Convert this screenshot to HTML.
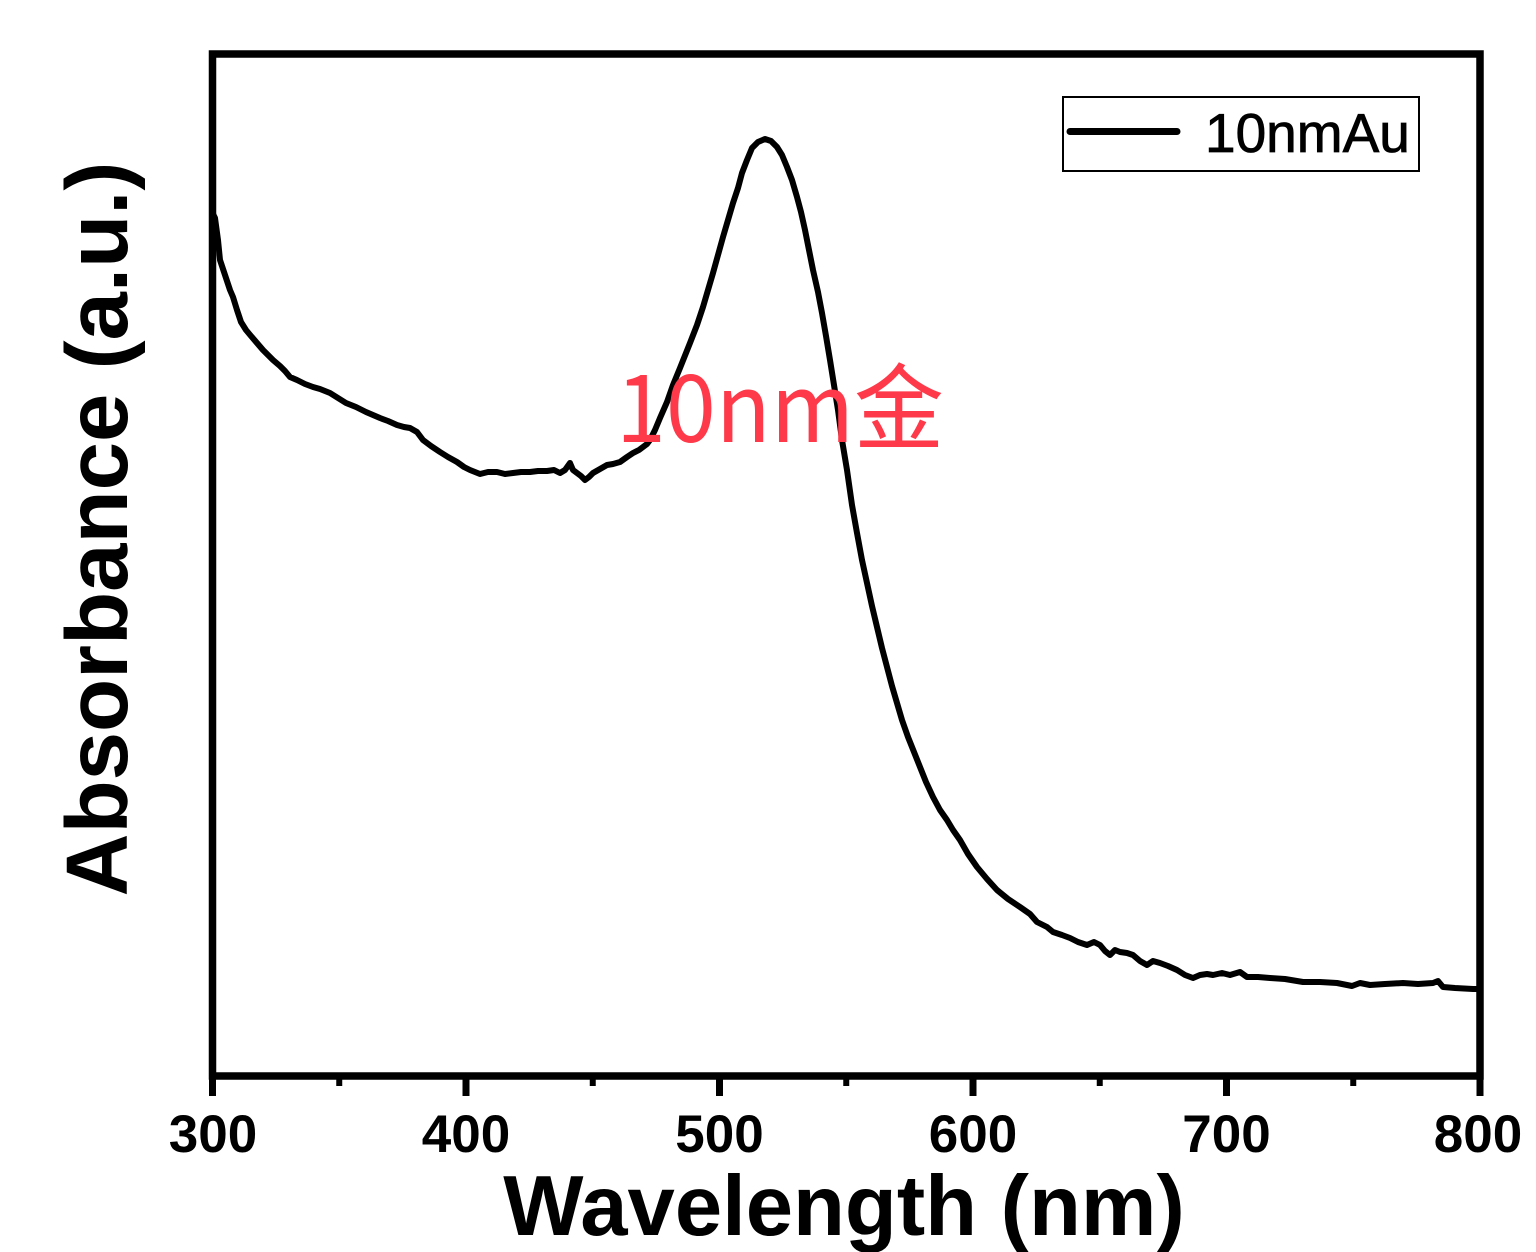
<!DOCTYPE html>
<html>
<head>
<meta charset="utf-8">
<style>
  html, body { margin: 0; padding: 0; background: #ffffff; }
  body { width: 1536px; height: 1252px; overflow: hidden; }
  svg { display: block; }
</style>
</head>
<body>
<svg width="1536" height="1252" viewBox="0 0 1536 1252" xmlns="http://www.w3.org/2000/svg">
  <rect x="0" y="0" width="1536" height="1252" fill="#ffffff"/>

  <!-- data curve -->
  <polyline fill="none" stroke="#000" stroke-width="6" stroke-linejoin="round" stroke-linecap="round"
    points="212,212 215,218 218,240 220,260 224,272 227,281 230,290 233,297 237,310 241,322 246,330 251,336 257,343 263,350 268,355 273,360 280,366 285,371 290,377 297,380 305,384 313,387 320,389 330,393 338,398 346,403 356,407 366,412 373,415 380,418 388,421 397,425 404,427 410,428 417,432 423,440 431,446 440,452 448,457 457,462 464,467 470,470 480,474 488,472 497,472 505,474 513,473 521,472 530,472 538,471 547,471 554,470 560,473 565,470 570,463 573,470 577,473 581,476 585,480 589,477 593,473 600,469 607,465 613,464 620,462 627,457 633,453 639,450 643,447 647,444 650,440 655,430 660,418 667,402 673,385 680,368 690,343 697,325 703,307 708,290 713,273 718,255 723,237 728,220 733,203 738,188 742,173 747,160 752,148 758,142 765,139 771,141 777,147 782,155 787,167 792,180 797,197 801,212 805,230 809,250 813,270 818,292 822,313 826,336 830,360 834,385 838,410 842,440 847,470 852,505 857,533 862,560 867,583 872,606 877,627 882,648 887,667 892,686 897,703 902,720 908,737 914,752 920,767 926,782 933,797 940,810 947,820 953,830 960,840 968,854 977,867 987,879 997,890 1008,899 1020,907 1030,914 1037,922 1047,927 1053,932 1062,935 1070,938 1078,942 1087,945 1094,942 1100,945 1105,951 1110,955 1115,950 1120,952 1127,953 1133,955 1140,961 1147,965 1153,961 1160,963 1168,966 1177,970 1185,975 1193,978 1200,975 1207,974 1213,975 1222,973 1230,975 1240,972 1247,977 1258,977 1270,978 1285,979 1303,982 1320,982 1337,983 1352,986 1360,983 1370,985 1385,984 1403,983 1418,984 1433,983 1438,981 1443,987 1455,988 1473,989 1477,989"/>

  <!-- frame -->
  <rect x="212.5" y="54" width="1267.5" height="1022" fill="none" stroke="#000" stroke-width="7.5"/>

  <!-- major ticks -->
  <g stroke="#000" stroke-width="7">
    <line x1="212.5" y1="1076" x2="212.5" y2="1096"/>
    <line x1="466" y1="1076" x2="466" y2="1096"/>
    <line x1="719.5" y1="1076" x2="719.5" y2="1096"/>
    <line x1="973" y1="1076" x2="973" y2="1096"/>
    <line x1="1226.5" y1="1076" x2="1226.5" y2="1096"/>
    <line x1="1480" y1="1076" x2="1480" y2="1096"/>
  </g>
  <!-- minor ticks -->
  <g stroke="#000" stroke-width="6">
    <line x1="339.25" y1="1076" x2="339.25" y2="1086"/>
    <line x1="592.75" y1="1076" x2="592.75" y2="1086"/>
    <line x1="846.25" y1="1076" x2="846.25" y2="1086"/>
    <line x1="1099.75" y1="1076" x2="1099.75" y2="1086"/>
    <line x1="1353.25" y1="1076" x2="1353.25" y2="1086"/>
  </g>

  <!-- tick labels -->
  <g font-family="'Liberation Sans', Arial, sans-serif" font-weight="bold" font-size="53" fill="#000" text-anchor="middle">
    <text x="213" y="1152">300</text>
    <text x="466" y="1152">400</text>
    <text x="719.5" y="1152">500</text>
    <text x="973" y="1152">600</text>
    <text x="1226.5" y="1152">700</text>
    <text x="1478" y="1152">800</text>
  </g>

  <!-- axis titles -->
  <text x="844" y="1235" font-family="'Liberation Sans', Arial, sans-serif" font-weight="bold" font-size="85" fill="#000" text-anchor="middle">Wavelength (nm)</text>
  <text transform="translate(127,529) rotate(-90)" x="0" y="0" font-family="'Liberation Sans', Arial, sans-serif" font-weight="bold" font-size="87" fill="#000" text-anchor="middle">Absorbance (a.u.)</text>

  <!-- legend -->
  <rect x="1063" y="97" width="356" height="74" fill="#fff" stroke="#000" stroke-width="2"/>
  <line x1="1070" y1="131.5" x2="1177" y2="131.5" stroke="#000" stroke-width="7" stroke-linecap="round"/>
  <text x="1205" y="152" font-family="'Liberation Sans', Arial, sans-serif" font-size="55" fill="#000" stroke="#000" stroke-width="0.8">10nmAu</text>

  <!-- red annotation -->
  <text x="616" y="442" font-family="'Noto Sans CJK SC', 'WenQuanYi Zen Hei', sans-serif" font-size="94" fill="#fe3a4a" textLength="328" lengthAdjust="spacingAndGlyphs">10nm金</text>
</svg>
</body>
</html>
